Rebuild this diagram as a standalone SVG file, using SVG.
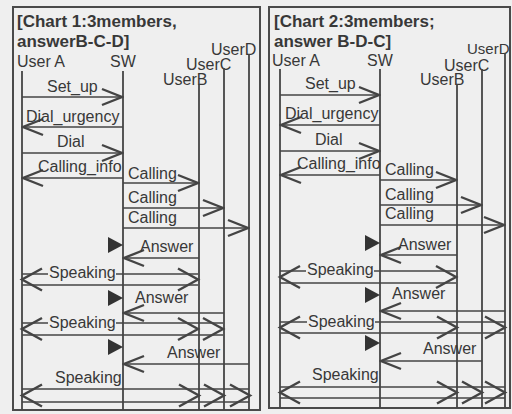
<svg xmlns="http://www.w3.org/2000/svg" xmlns:xlink="http://www.w3.org/1999/xlink" width="512" height="414" viewBox="0 0 512 414">
<style>
.bg{fill:#efefef}
.box{fill:none;stroke:#4a4a4a;stroke-width:2}
.life{stroke:#444;stroke-width:1.8;fill:none}
.msg{stroke:#444;stroke-width:1.6;fill:none}
.chev{stroke:#444;stroke-width:2.4;fill:none;stroke-linejoin:miter}
.tri{fill:#333}
.t{font-family:"Liberation Sans",Arial,sans-serif;font-size:16px;fill:#383838}
.title{font-family:"Liberation Sans",Arial,sans-serif;font-size:17px;font-weight:bold;fill:#383838}
.mask{fill:#efefef}
</style>
<defs>
<marker id="ah" markerUnits="userSpaceOnUse" markerWidth="24" markerHeight="20" viewBox="-22 -10 24 20" refX="0" refY="0" orient="auto">
<path d="M-20,-8 L0,0 L-20,8" class="chev"/>
</marker>
<path id="cR" d="M-20,-11 L0,0 L-20,11" class="chev"/>
<path id="cL" d="M20,-11 L0,0 L20,11" class="chev"/>
<path id="trg" d="M0,-8 L15,0 L0,8 Z" class="tri"/>
</defs>
<rect class="bg" x="0" y="0" width="512" height="414"/>

<!-- Chart 1 -->
<g id="chart1">
<rect class="box" x="13" y="7" width="247" height="403"/>
<g id="c1-title">
<text class="title" x="17" y="27">[Chart 1:3members,</text>
<text class="title" x="17" y="47">answerB-C-D]</text>
</g>
<g id="c1-userA"><text class="t" x="17" y="67">User A</text><line class="life" x1="22" y1="71" x2="22" y2="410"/></g>
<g id="c1-sw"><text class="t" x="110" y="67">SW</text><line class="life" x1="123" y1="71" x2="123" y2="410"/></g>
<g id="c1-userB"><text class="t" x="163" y="85">UserB</text><line class="life" x1="199" y1="84" x2="199" y2="410"/></g>
<g id="c1-userC"><text class="t" x="186" y="70">UserC</text><line class="life" x1="224" y1="68" x2="224" y2="410"/></g>
<g id="c1-userD"><text class="t" x="211" y="55">UserD</text><line class="life" x1="249" y1="54" x2="249" y2="410"/></g>
</g>

<!-- Chart 2 -->
<g id="chart2">
<rect class="box" x="269" y="7" width="241" height="401"/>
<g id="c2-title">
<text class="title" x="274" y="27">[Chart 2:3members;</text>
<text class="title" x="274" y="47">answer B-D-C]</text>
</g>
<g id="c2-userA"><text class="t" x="272" y="66">User A</text><line class="life" x1="280" y1="69" x2="280" y2="408"/></g>
<g id="c2-sw"><text class="t" x="367" y="66">SW</text><line class="life" x1="380" y1="69" x2="380" y2="408"/></g>
<g id="c2-userB"><text class="t" x="420" y="85">UserB</text><line class="life" x1="457" y1="84" x2="457" y2="408"/></g>
<g id="c2-userC"><text class="t" x="444" y="71">UserC</text><line class="life" x1="482" y1="69" x2="482" y2="408"/></g>
<g id="c2-userD"><text class="t" x="467" y="54" style="font-size:15px">UserD</text><line class="life" x1="505" y1="53" x2="505" y2="408"/></g>
</g>

<g id="connectors">
<!-- Chart 1 messages -->
<line class="msg" x1="22" y1="97" x2="122" y2="97" marker-end="url(#ah)"/>
<text class="t" x="47" y="92">Set_up</text>
<line class="msg" x1="123" y1="127" x2="23" y2="127" marker-end="url(#ah)"/>
<text class="t" x="26" y="122">Dial_urgency</text>
<line class="msg" x1="22" y1="153" x2="122" y2="153" marker-end="url(#ah)"/>
<text class="t" x="57" y="147">Dial</text>
<line class="msg" x1="123" y1="178" x2="23" y2="178" marker-end="url(#ah)"/>
<text class="t" x="38" y="172">Calling_info</text>
<line class="msg" x1="123" y1="183" x2="198" y2="183" marker-end="url(#ah)"/>
<text class="t" x="128" y="179">Calling</text>
<line class="msg" x1="123" y1="208" x2="223" y2="208" marker-end="url(#ah)"/>
<text class="t" x="128" y="203">Calling</text>
<line class="msg" x1="123" y1="228" x2="248" y2="228" marker-end="url(#ah)"/>
<text class="t" x="128" y="223">Calling</text>
<use href="#trg" x="108" y="245"/>
<line class="msg" x1="199" y1="258" x2="124" y2="258" marker-end="url(#ah)"/>
<text class="t" x="140" y="252">Answer</text>
<line class="msg" x1="22" y1="274" x2="198" y2="274"/>
<line class="msg" x1="22" y1="285" x2="198" y2="285"/>
<use href="#cL" x="22" y="279.5"/>
<use href="#cR" x="198" y="279.5"/>
<rect class="mask" x="48" y="266" width="68" height="14"/>
<text class="t" x="49" y="278">Speaking</text>
<use href="#trg" x="108" y="298"/>
<line class="msg" x1="224" y1="313" x2="124" y2="313" marker-end="url(#ah)"/>
<text class="t" x="135" y="303">Answer</text>
<line class="msg" x1="22" y1="323" x2="223" y2="323"/>
<line class="msg" x1="22" y1="335" x2="223" y2="335"/>
<use href="#cL" x="22" y="329"/>
<use href="#cR" x="198" y="329"/>
<use href="#cR" x="223" y="329"/>
<rect class="mask" x="48" y="315" width="68" height="14"/>
<text class="t" x="49" y="328">Speaking</text>
<use href="#trg" x="108" y="347"/>
<line class="msg" x1="249" y1="364" x2="124" y2="364" marker-end="url(#ah)"/>
<text class="t" x="167" y="358">Answer</text>
<line class="msg" x1="22" y1="389" x2="249" y2="389"/>
<line class="msg" x1="22" y1="402" x2="249" y2="402"/>
<use href="#cL" x="22" y="395.5"/>
<use href="#cR" x="199" y="395.5"/>
<use href="#cR" x="224" y="395.5"/>
<use href="#cR" x="250" y="395.5"/>
<text class="t" x="55" y="383">Speaking</text>

<!-- Chart 2 messages -->
<line class="msg" x1="280" y1="95" x2="379" y2="95" marker-end="url(#ah)"/>
<text class="t" x="305" y="89">Set_up</text>
<line class="msg" x1="380" y1="125" x2="281" y2="125" marker-end="url(#ah)"/>
<text class="t" x="285" y="119">Dial_urgency</text>
<line class="msg" x1="280" y1="151" x2="379" y2="151" marker-end="url(#ah)"/>
<text class="t" x="315" y="145">Dial</text>
<line class="msg" x1="380" y1="175" x2="281" y2="175" marker-end="url(#ah)"/>
<text class="t" x="297" y="169">Calling_info</text>
<line class="msg" x1="380" y1="180" x2="456" y2="180" marker-end="url(#ah)"/>
<text class="t" x="385" y="175">Calling</text>
<line class="msg" x1="380" y1="205" x2="481" y2="205" marker-end="url(#ah)"/>
<text class="t" x="385" y="200">Calling</text>
<line class="msg" x1="380" y1="225" x2="504" y2="225" marker-end="url(#ah)"/>
<text class="t" x="385" y="219">Calling</text>
<use href="#trg" x="365" y="243"/>
<line class="msg" x1="457" y1="255" x2="381" y2="255" marker-end="url(#ah)"/>
<text class="t" x="398" y="250">Answer</text>
<line class="msg" x1="280" y1="271" x2="456" y2="271"/>
<line class="msg" x1="280" y1="283" x2="456" y2="283"/>
<use href="#cL" x="280" y="277"/>
<use href="#cR" x="456" y="277"/>
<rect class="mask" x="306" y="263" width="68" height="14"/>
<text class="t" x="307" y="275">Speaking</text>
<use href="#trg" x="365" y="295"/>
<line class="msg" x1="505" y1="311" x2="381" y2="311" marker-end="url(#ah)"/>
<text class="t" x="392" y="299">Answer</text>
<line class="msg" x1="280" y1="322" x2="505" y2="322"/>
<line class="msg" x1="280" y1="333" x2="505" y2="333"/>
<use href="#cL" x="280" y="327.5"/>
<use href="#cR" x="457" y="327.5"/>
<use href="#cR" x="505" y="327.5"/>
<rect class="mask" x="307" y="314" width="68" height="14"/>
<text class="t" x="308" y="327">Speaking</text>
<use href="#trg" x="365" y="343"/>
<line class="msg" x1="482" y1="361" x2="381" y2="361" marker-end="url(#ah)"/>
<text class="t" x="423" y="354">Answer</text>
<line class="msg" x1="280" y1="387" x2="505" y2="387"/>
<line class="msg" x1="280" y1="398" x2="505" y2="398"/>
<use href="#cL" x="280" y="392.5"/>
<use href="#cR" x="457" y="392.5"/>
<use href="#cR" x="482" y="392.5"/>
<use href="#cR" x="505" y="392.5"/>
<text class="t" x="312" y="380">Speaking</text>
</g>
</svg>
